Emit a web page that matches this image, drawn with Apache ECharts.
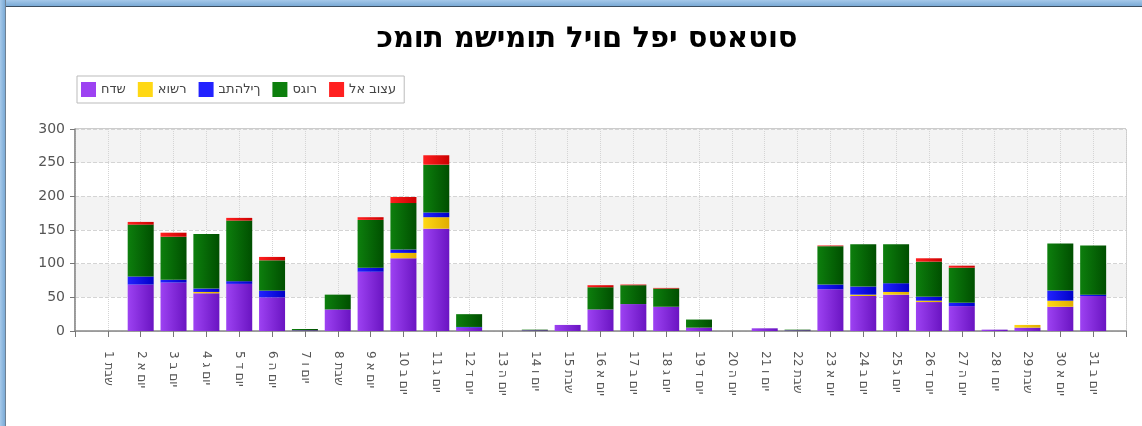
<!DOCTYPE html>
<html>
<head>
<meta charset="utf-8">
<script src="https://cdn.jsdelivr.net/npm/echarts@6/dist/echarts.min.js"></script>
<style>
  html, body { margin: 0; padding: 0; background: #fff; }
  #wrap { position: relative; width: 1142px; height: 426px; overflow: hidden; }
  #chart { position: absolute; left: 0; top: 0; width: 1142px; height: 426px; }
  #ftop { position: absolute; left: 0; top: 0; width: 1142px; height: 6px;
          background: linear-gradient(#a6c9ea, #7aaad6); border-bottom: 1px solid #3b4d60; pointer-events: none; }
  #fleft { position: absolute; left: 0; top: 0; width: 5px; height: 426px;
          background: linear-gradient(90deg, #a6c9ea, #7aaad6); border-right: 1px solid #6f8194; pointer-events: none; }
</style>
</head>
<body>
<div id="wrap">
  <div id="chart"></div>
  <div id="ftop"></div>
  <div id="fleft"></div>
</div>
<script>
const titleText = 'כמות משימות ליום לפי סטאטוס';
const categories = [
  '1 שבת','2 יום א','3 יום ב','4 יום ג','5 יום ד','6 יום ה','7 יום ו',
  '8 שבת','9 יום א','10 יום ב','11 יום ג','12 יום ד','13 יום ה','14 יום ו',
  '15 שבת','16 יום א','17 יום ב','18 יום ג','19 יום ד','20 יום ה','21 יום ו',
  '22 שבת','23 יום א','24 יום ב','25 יום ג','26 יום ד','27 יום ה','28 יום ו',
  '29 שבת','30 יום א','31 יום ב'
];
const seriesNames = ['חדש','אושר','בתהליך','סגור','לא בוצע'];
// values per day 1..31
const newTasks      = [0,69,72,56,70,50,1,32,88,108,152,5,0,1,9,32,40,36,5,0,4,1,62,52,54,43,37,2,5,36,52];
const approved      = [0,0,0,2,0,0,0,0,0,8,17,0,0,0,0,0,0,0,0,0,0,0,0,2,4,2,0,0,4,9,0];
const inProgress    = [0,12,4,5,4,10,0,0,6,5,7,1,0,0,0,0,0,0,0,0,0,0,7,12,13,6,5,0,0,15,2];
const closed        = [0,77,64,81,90,45,2,22,71,69,71,19,0,1,0,33,28,27,12,0,0,1,57,63,58,52,52,0,0,70,73];
const notDone       = [0,4,6,0,4,5,0,0,4,9,14,0,0,0,0,3,1,1,0,0,0,0,1,0,0,5,3,0,0,0,0];
const yTicks = [0, 50, 100, 150, 200, 250, 300];

const colorPairs = [
  ['#9d42f2', '#6a14c2'],
  ['#ffd814', '#e0ad00'],
  ['#2222ff', '#0000c8'],
  ['#0d7f0d', '#004f00'],
  ['#ff2020', '#cc0000']
];
const seriesValues = [newTasks, approved, inProgress, closed, notDone];

// The source shows title and legend glyphs laid out left-to-right in logical order.
const LRO = '\u202D', PDF = '\u202C';
function ltr(s) { return LRO + s + PDF; }

// pad with an empty slot at each end (the axis runs from slot 0 to slot 32)
const xData = [''].concat(categories, ['']);
function pad(arr) { return ['-'].concat(arr, ['-']); }

const FONT = 'DejaVu Sans';
const chart = echarts.init(document.getElementById('chart'), null, { renderer: 'canvas' });

const series = seriesNames.map((name, i) => ({
  name: name,
  type: 'bar',
  stack: 'total',
  barWidth: 26,
  data: pad(seriesValues[i]),
  itemStyle: {
    color: new echarts.graphic.LinearGradient(0, 0, 1, 0, [
      { offset: 0, color: colorPairs[i][0] },
      { offset: 1, color: colorPairs[i][1] }
    ])
  },
  emphasis: { disabled: true }
}));

chart.setOption({
  animation: false,
  backgroundColor: '#ffffff',
  title: {
    text: ltr(titleText),
    left: 582,
    textAlign: 'center',
    top: 20,
    textStyle: { fontFamily: 'DejaVu Sans', fontSize: 29, fontWeight: 'bold', color: '#000' }
  },
  legend: {
    left: 77,
    top: 76,
    icon: 'rect',
    itemWidth: 15,
    itemHeight: 15,
    itemGap: 12,
    padding: [6, 8, 6, 4],
    borderColor: '#bbbbbb',
    borderWidth: 1,
    data: seriesNames.map((n, i) => ({ name: n, itemStyle: { color: colorPairs[i][0] } })),
    formatter: function (n) { return ltr(n); },
    textStyle: { fontFamily: FONT, fontSize: 13, color: '#444' }
  },
  grid: {
    left: 75, right: 16, top: 129, bottom: 95,
    show: true, borderColor: '#999', borderWidth: 1, backgroundColor: 'transparent'
  },
  xAxis: {
    type: 'category',
    data: xData,
    boundaryGap: false,
    axisLine: { lineStyle: { color: '#888', width: 1.5 } },
    axisTick: { show: true, length: 6, interval: 0, lineStyle: { color: '#777' } },
    axisLabel: { rotate: -90, interval: 0, margin: 20, fontFamily: FONT, fontSize: 12, color: '#555' },
    splitLine: { show: true, interval: 0, lineStyle: { color: '#d4d4d4', type: 'dotted' } }
  },
  yAxis: {
    type: 'value',
    min: yTicks[0],
    max: yTicks[yTicks.length - 1],
    interval: yTicks[1] - yTicks[0],
    axisLine: { show: true, lineStyle: { color: '#888', width: 1.5 } },
    axisTick: { show: true, length: 5, lineStyle: { color: '#777' } },
    axisLabel: { fontFamily: FONT, fontSize: 14, color: '#555', margin: 10 },
    splitLine: { show: true, lineStyle: { color: '#d4d4d4', type: 'dashed' } },
    splitArea: { show: true, areaStyle: { color: ['#ffffff', '#f3f3f3'] } }
  },
  series: series
});
</script>
</body>
</html>
